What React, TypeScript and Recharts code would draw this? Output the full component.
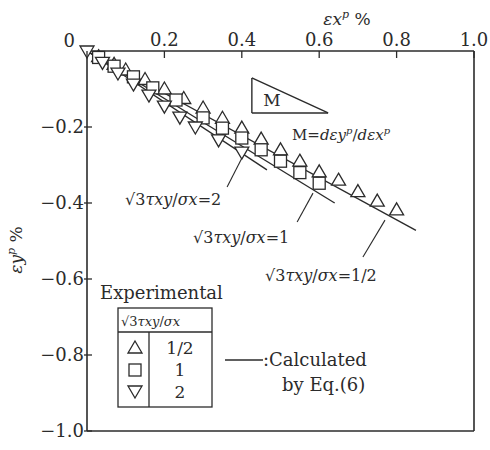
import { ScatterChart, Scatter, XAxis, YAxis, ReferenceLine } from "recharts";

// strain axes, in %
const xTicks = [0, 0.2, 0.4, 0.6, 0.8, 1.0];
const yTicks = [0, -0.2, -0.4, -0.6, -0.8, -1.0];

// experimental points, sqrt(3) tau_xy / sigma_x = 1/2
const halfX = [0.03, 0.07, 0.1, 0.15, 0.2, 0.25, 0.3, 0.35, 0.4, 0.45, 0.5, 0.55, 0.6, 0.65, 0.7, 0.75, 0.8];
const halfY = [-0.015, -0.035, -0.05, -0.075, -0.1, -0.125, -0.15, -0.177, -0.203, -0.232, -0.26, -0.29, -0.318, -0.34, -0.37, -0.395, -0.418];

// = 1
const oneX = [0.03, 0.07, 0.12, 0.17, 0.23, 0.3, 0.35, 0.4, 0.45, 0.5, 0.55, 0.6];
const oneY = [-0.017, -0.04, -0.068, -0.097, -0.129, -0.176, -0.203, -0.229, -0.26, -0.29, -0.32, -0.348];

// = 2
const twoX = [0, 0.04, 0.08, 0.12, 0.16, 0.2, 0.24, 0.28, 0.34, 0.4];
const twoY = [0, -0.03, -0.058, -0.087, -0.116, -0.145, -0.174, -0.2, -0.234, -0.266];

// Eq.(6) curves
const calcHalfX = [0, 0.85];
const calcHalfY = [0, -0.472];
const calcOneX = [0, 0.64];
const calcOneY = [0, -0.4];
const calcTwoX = [0, 0.465];
const calcTwoY = [0, -0.313];

// leader lines [x1, y1, x2, y2]
const leaderTwo = [0.362, -0.358, 0.4, -0.282];
const leaderOne = [0.543, -0.45, 0.584, -0.374];
const leaderHalf = [0.713, -0.542, 0.77, -0.445];

// slope triangle corners
const slopeX = [0.426, 0.426, 0.623];
const slopeY = [-0.071, -0.163, -0.163];

const zip = (xs: number[], ys: number[]) => xs.map((x, i) => ({ x, y: ys[i] }));

const INK = "#2b2b2b";
const FONT = "'DejaVu Serif', serif";

const TriUp = ({ cx, cy }: any) => (
  <path d={`M${cx},${cy - 7} L${cx + 7},${cy + 5} L${cx - 7},${cy + 5} Z`} fill="#fff" stroke={INK} strokeWidth={1.3} />
);
const TriDown = ({ cx, cy }: any) => (
  <path d={`M${cx},${cy + 7} L${cx + 7},${cy - 5} L${cx - 7},${cy - 5} Z`} fill="#fff" stroke={INK} strokeWidth={1.3} />
);
const Square = ({ cx, cy }: any) => (
  <rect x={cx - 6} y={cy - 6} width={12} height={12} fill="#fff" stroke={INK} strokeWidth={1.3} />
);
const NoDot = () => <g />;

const XTick = ({ x, y, payload }: any) => (
  <g>
    <line x1={x} y1={y} x2={x} y2={y + 7} stroke={INK} strokeWidth={1.3} />
    {payload.value !== 0 && (
      <text x={x} y={y - 5} textAnchor="middle" fontSize={18} fontFamily={FONT} fill={INK}>
        {payload.value.toFixed(1)}
      </text>
    )}
  </g>
);

const YTick = ({ x, y, payload }: any) => {
  const v = payload.value;
  return (
    <g>
      {v !== 0 && <line x1={x - 3} y1={y} x2={x + 5} y2={y} stroke={INK} strokeWidth={1.3} />}
      <text
        x={v === 0 ? x - 12 : x - 3}
        y={v === 0 ? y - 4 : y + 6}
        textAnchor="end"
        fontSize={18}
        fontFamily={FONT}
        fill={INK}
      >
        {v === 0 ? "0" : "\u2212" + Math.abs(v).toFixed(1)}
      </text>
    </g>
  );
};

const Ratio = ({ x, y, value, size = 16 }: { x: number; y: number; value: string; size?: number }) => (
  <text x={x} y={y} fontSize={size} fontFamily={FONT} fill={INK}>
    √3<tspan fontStyle="italic">τxy</tspan>/<tspan fontStyle="italic">σx</tspan>
    {value !== "" ? "=" + value : ""}
  </text>
);

const seg = (s: number[]) =>
  [
    { x: s[0], y: s[1] },
    { x: s[2], y: s[3] },
  ] as any;

export default function App() {
  const tri = zip(slopeX, slopeY);
  return (
    <div style={{ position: "fixed", left: 0, top: 0, background: "#fff" }}>
      <ScatterChart width={490} height={450} margin={{ top: 0, right: 16, bottom: 19, left: 0 }}>
        <XAxis
          type="number"
          dataKey="x"
          orientation="top"
          domain={[0, 1]}
          ticks={xTicks}
          height={51}
          tickSize={0}
          tickMargin={0}
          tick={<XTick />}
          axisLine={{ stroke: INK, strokeWidth: 1.6 }}
          tickLine={false}
        />
        <YAxis
          type="number"
          dataKey="y"
          domain={[-1, 0]}
          ticks={yTicks}
          width={87}
          tickSize={0}
          tickMargin={0}
          tick={<YTick />}
          axisLine={{ stroke: INK, strokeWidth: 1.6 }}
          tickLine={false}
        />
        <ReferenceLine x={1} stroke={INK} strokeWidth={1.6} />
        <ReferenceLine y={-1} stroke={INK} strokeWidth={1.6} />

        <Scatter data={zip(calcHalfX, calcHalfY)} line={{ stroke: INK, strokeWidth: 1.4 }} shape={<NoDot />} isAnimationActive={false} />
        <Scatter data={zip(calcOneX, calcOneY)} line={{ stroke: INK, strokeWidth: 1.4 }} shape={<NoDot />} isAnimationActive={false} />
        <Scatter data={zip(calcTwoX, calcTwoY)} line={{ stroke: INK, strokeWidth: 1.4 }} shape={<NoDot />} isAnimationActive={false} />

        <Scatter data={zip(halfX, halfY)} shape={<TriUp />} isAnimationActive={false} />
        <Scatter data={zip(oneX, oneY)} shape={<Square />} isAnimationActive={false} />
        <Scatter data={zip(twoX, twoY)} shape={<TriDown />} isAnimationActive={false} />

        <ReferenceLine segment={seg(leaderTwo)} stroke={INK} strokeWidth={1.1} />
        <ReferenceLine segment={seg(leaderOne)} stroke={INK} strokeWidth={1.1} />
        <ReferenceLine segment={seg(leaderHalf)} stroke={INK} strokeWidth={1.1} />

        <ReferenceLine segment={[tri[0], tri[1]]} stroke={INK} strokeWidth={1.4} />
        <ReferenceLine segment={[tri[1], tri[2]]} stroke={INK} strokeWidth={1.4} />
        <ReferenceLine segment={[tri[2], tri[0]]} stroke={INK} strokeWidth={1.4} />

        {/* axis titles */}
        <text x={347} y={25} textAnchor="middle" fontSize={17} fontFamily={FONT} fill={INK}>
          <tspan fontStyle="italic">εx</tspan>
          <tspan fontStyle="italic" fontSize={11} dy={-7}>p</tspan>
          <tspan dy={7}> %</tspan>
        </text>
        <text
          x={22}
          y={250}
          textAnchor="middle"
          fontSize={17}
          fontFamily={FONT}
          fill={INK}
          transform="rotate(-90 22 250)"
        >
          <tspan fontStyle="italic">εy</tspan>
          <tspan fontStyle="italic" fontSize={11} dy={-7}>p</tspan>
          <tspan dy={7}> %</tspan>
        </text>

        {/* slope definition */}
        <text x={272} y={106} textAnchor="middle" fontSize={17} fontFamily={FONT} fill={INK}>M</text>
        <text x={292} y={140} fontSize={15} fontFamily={FONT} fill={INK}>
          M=<tspan fontStyle="italic">dεy</tspan>
          <tspan fontStyle="italic" fontSize={10} dy={-6}>p</tspan>
          <tspan dy={6}>/</tspan>
          <tspan fontStyle="italic">dεx</tspan>
          <tspan fontStyle="italic" fontSize={10} dy={-6}>p</tspan>
        </text>

        {/* curve labels */}
        <Ratio x={125} y={205} value="2" />
        <Ratio x={193} y={243} value="1" />
        <Ratio x={265} y={281} value="1/2" />

        {/* legend */}
        <text x={100} y={299} fontSize={18} fontFamily={FONT} fill={INK}>Experimental</text>
        <rect x={118} y={308} width={94} height={99} fill="none" stroke={INK} strokeWidth={1.3} />
        <line x1={118} y1={332} x2={212} y2={332} stroke={INK} strokeWidth={1.3} />
        <line x1={149} y1={332} x2={149} y2={407} stroke={INK} strokeWidth={1.3} />
        <Ratio x={121} y={326} value="" size={13} />
        <TriUp cx={135} cy={348} />
        <Square cx={135} cy={370} />
        <TriDown cx={135} cy={391} />
        <text x={180} y={354} textAnchor="middle" fontSize={17} fontFamily={FONT} fill={INK}>1/2</text>
        <text x={180} y={376} textAnchor="middle" fontSize={17} fontFamily={FONT} fill={INK}>1</text>
        <text x={180} y={398} textAnchor="middle" fontSize={17} fontFamily={FONT} fill={INK}>2</text>

        <line x1={225} y1={360} x2={263} y2={360} stroke={INK} strokeWidth={1.4} />
        <text x={263} y={366} fontSize={18} fontFamily={FONT} fill={INK}>:Calculated</text>
        <text x={282} y={391} fontSize={18} fontFamily={FONT} fill={INK}>by Eq.(6)</text>
      </ScatterChart>
    </div>
  );
}
